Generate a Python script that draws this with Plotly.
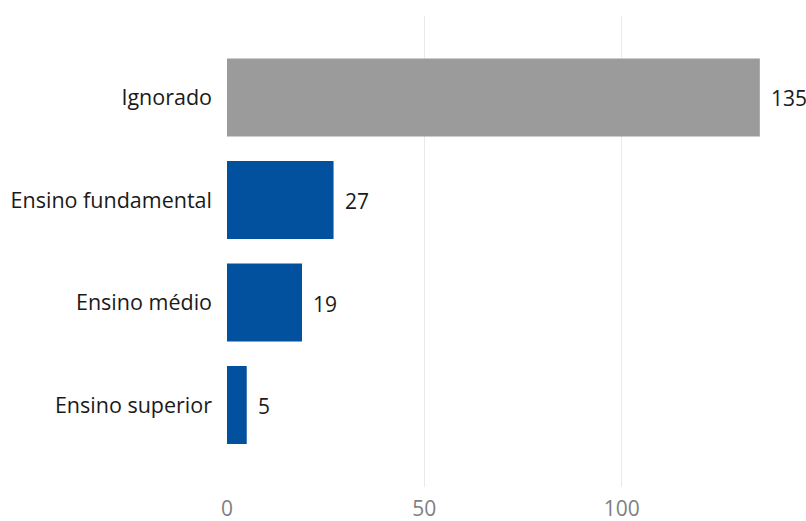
import plotly.graph_objects as go

categories = ["Ignorado", "Ensino fundamental", "Ensino médio", "Ensino superior"]
values = [135, 27, 19, 5]
colors = ["#9B9B9B", "#02519E", "#02519E", "#02519E"]
x_ticks = [0, 50, 100]

FONT = "'Open Sans', 'Noto Sans', sans-serif"

fig = go.Figure(
    go.Bar(
        y=categories,
        x=values,
        orientation="h",
        marker=dict(color=colors, line=dict(width=0)),
        width=0.76,
        hoverinfo="skip",
    )
)

# value labels to the right of each bar
for cat, val in zip(categories, values):
    fig.add_annotation(
        x=val, y=cat, text=str(val), showarrow=False,
        xanchor="left", xshift=9, yshift=-1,
        font=dict(family=FONT, size=21, color="#1a1a1a"),
    )

fig.update_layout(
    width=806, height=521,
    margin=dict(l=227, r=0, t=16, b=34),
    paper_bgcolor="white", plot_bgcolor="white",
    showlegend=False,
    font=dict(family=FONT),
    xaxis=dict(
        range=[0, 146.7],
        tickvals=x_ticks,
        showgrid=True, gridcolor="#E9E9E9", gridwidth=1.3,
        zeroline=False, showline=False,
        tickfont=dict(size=21, color="#7F7F7F"),
        ticklabelstandoff=7,
        automargin=False,
    ),
    yaxis=dict(
        categoryorder="array", categoryarray=categories,
        range=[3.80, -0.795],
        showgrid=False, zeroline=False, showline=False,
        tickfont=dict(size=21.5, color="#1a1a1a"),
        ticklabelstandoff=14,
    ),
)

fig.write_html("out.html")
